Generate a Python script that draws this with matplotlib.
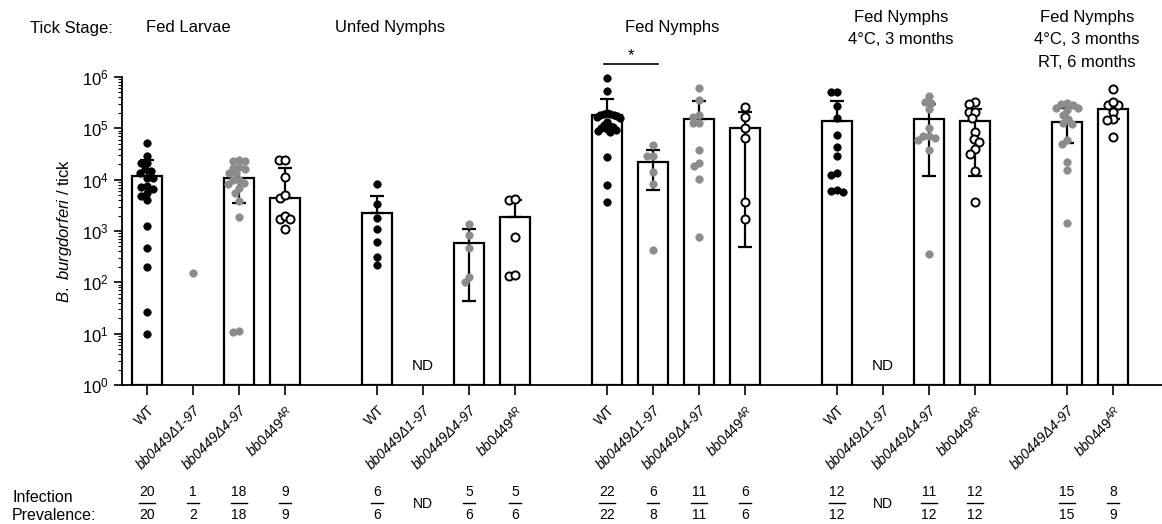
import matplotlib
matplotlib.use("Agg")
import matplotlib.pyplot as plt
import numpy as np
from matplotlib.ticker import LogLocator, NullFormatter

plt.rcParams['font.family'] = ['Liberation Sans', 'DejaVu Sans']
plt.rcParams['mathtext.fontset'] = 'custom'
plt.rcParams['mathtext.rm'] = 'Liberation Sans'
plt.rcParams['mathtext.it'] = 'Liberation Sans:italic'

# tick stages and the genotypes shown in each
stages = ['Fed Larvae', 'Unfed Nymphs', 'Fed Nymphs',
          'Fed Nymphs\n4°C, 3 months', 'Fed Nymphs\n4°C, 3 months\nRT, 6 months']
stage_genotypes = [['WT', 'd1', 'd4', 'AR'], ['WT', 'd1', 'd4', 'AR'],
                   ['WT', 'd1', 'd4', 'AR'], ['WT', 'd1', 'd4', 'AR'], ['d4', 'AR']]
genotype_labels = {'WT': 'WT', 'd1': 'bb0449Δ1-97', 'd4': 'bb0449Δ4-97',
                   'AR': r'$\mathit{bb0449}^{\mathit{AR}}$'}

# spirochete burden per tick (individual ticks), one list per bar
fl_wt = [51000, 29000, 21000, 21000, 16000, 15000, 13500, 11000, 11000, 7400,
         7200, 6500, 4900, 5500, 4100, 1230, 470, 200, 27, 10]
fl_d1 = [155]
fl_d4 = [24000, 23500, 23000, 17000, 16500, 17500, 13500, 13500, 10000, 9800,
         8700, 8100, 6900, 5500, 3800, 1860, 11, 11.5]
fl_ar = [23700, 24000, 11500, 4300, 5000, 1740, 2000, 1740, 1070]
un_wt = [8100, 3400, 1800, 1100, 600, 310, 215]
un_d1 = []
un_d4 = [1380, 830, 460, 102, 126]
un_ar = [4000, 4250, 760, 135, 141]
fn_wt = [955000, 525000, 200000, 190000, 186000, 182000, 178000, 174000, 166000,
         158000, 132000, 115000, 110000, 105000, 100000, 95000, 91000, 87000,
         83000, 27500, 7800, 3700]
fn_d1 = [47000, 29000, 28500, 14000, 8100, 420]
fn_d4 = [620000, 355000, 170000, 129000, 128000, 182000, 38000, 18200, 21000, 10500, 760]
fn_ar = [263000, 170000, 102000, 66000, 3700, 1740]
c4_wt = [513000, 510000, 275000, 162000, 74000, 44000, 29000, 13200, 12300, 6300, 5800, 6000]
c4_d1 = []
c4_d4 = [417000, 331000, 309000, 234000, 102000, 71000, 66000, 59000, 70000, 37000, 355]
c4_ar = [331000, 295000, 209000, 210000, 162000, 83000, 63000, 54000, 39000, 32000, 15000, 3700]
rt_d4 = [288000, 295000, 316000, 245000, 246000, 229000, 182000, 151000, 129000,
         120000, 49000, 59000, 22000, 15500, 1450]
rt_ar = [575000, 282000, 280000, 324000, 209000, 155000, 145000, 68000]

points = [fl_wt, fl_d1, fl_d4, fl_ar, un_wt, un_d1, un_d4, un_ar,
          fn_wt, fn_d1, fn_d4, fn_ar, c4_wt, c4_d1, c4_d4, c4_ar, rt_d4, rt_ar]

# bar heights and error bar ends as drawn (nan = no bar)
nan = np.nan
bar_mean = [11700, nan, 11000, 4400, 2200, nan, 590, 1850,
            180000, 22000, 155000, 102000, 139000, nan, 155000, 137000, 135000, 235000]
err_high = [24000, nan, 18000, 17000, 4900, nan, 1100, 4100,
            380000, 38000, 340000, 204000, 340000, nan, 297000, 235000, 250000, 320000]
err_low = [11700, nan, 3500, 4400, 2200, nan, 44, 1850,
           180000, 6400, 155000, 490, 139000, nan, 12000, 11700, 52000, 150000]

prevalence = [('20', '20'), ('1', '2'), ('18', '18'), ('9', '9'),
              ('6', '6'), 'ND', ('5', '6'), ('5', '6'),
              ('22', '22'), ('6', '8'), ('11', '11'), ('6', '6'),
              ('12', '12'), 'ND', ('11', '12'), ('12', '12'),
              ('15', '15'), ('8', '9')]

sig_pair = (8, 9)
sig_label = '*'

# ---------------------------------------------------------------
W, H = 1162, 524
fig = plt.figure(figsize=(W / 100, H / 100), dpi=100)
ax = fig.add_axes([122 / W, 1 - 385 / H, 1 - 122 / W, (385 - 77) / H])

# slot positions with a one-slot gap between stages
xpos, xlabels, genos = [], [], []
cur = 0
for g in stage_genotypes:
    for gt in g:
        xpos.append(cur)
        xlabels.append(genotype_labels[gt])
        genos.append(gt)
        cur += 1
    cur += 1
xpos = np.array(xpos, dtype=float)

PX_SLOT, PX_DEC, DIAM, MAX_SPREAD = 46.0, 51.2, 6.3, 13.0


def swarm(vals, center):
    logs = np.log10(vals) * PX_DEC
    order = np.argsort(-logs)
    placed = []
    xs = np.zeros(len(vals))
    for i in order:
        y = logs[i]
        cands = [0.0]
        for px, py in placed:
            d = y - py
            if abs(d) < DIAM:
                h = np.sqrt(DIAM ** 2 - d ** 2)
                cands += [px + h, px - h]
        cands.sort(key=lambda c: (round(abs(c), 3), c))
        for c in cands:
            if all((c - px) ** 2 + (y - py) ** 2 >= DIAM ** 2 - 1e-6 for px, py in placed):
                break
        placed.append((c, y))
        xs[i] = c
    # squeeze wide swarms so they stay about the width of the bar
    widest = np.abs(xs).max()
    if widest > MAX_SPREAD:
        xs = xs * MAX_SPREAD / widest
    return center + xs / PX_SLOT


styles = {
    'WT': dict(facecolor='black', edgecolor='black', s=28, linewidths=0.6),
    'd1': dict(facecolor='#8c8c8c', edgecolor='#8c8c8c', s=28, linewidths=0.6),
    'd4': dict(facecolor='#8c8c8c', edgecolor='#8c8c8c', s=28, linewidths=0.6),
    'AR': dict(facecolor='white', edgecolor='black', s=34, linewidths=1.4),
}

bw = 0.67
for i, x in enumerate(xpos):
    if not np.isnan(bar_mean[i]):
        ax.bar(x, bar_mean[i] - 1, bottom=1, width=bw, facecolor='white',
               edgecolor='black', linewidth=1.6, zorder=1)
        ax.errorbar(x, bar_mean[i],
                    yerr=[[bar_mean[i] - err_low[i]], [err_high[i] - bar_mean[i]]],
                    fmt='none', ecolor='black', elinewidth=1.6, capsize=5,
                    capthick=1.6, zorder=2)
    if len(points[i]):
        px = swarm(points[i], x)
        ax.scatter(px, points[i], zorder=3, clip_on=False, **styles[genos[i]])
    if prevalence[i] == 'ND':
        ax.text(x, 2.3, 'ND', ha='center', va='center', fontsize=11)

ax.set_yscale('log')
ax.set_ylim(1, 1e6)
ax.set_xlim((122 - 147) / PX_SLOT, (W - 147) / PX_SLOT)
ax.yaxis.set_major_locator(LogLocator(base=10, numticks=10))
ax.yaxis.set_minor_locator(LogLocator(base=10, subs=np.arange(2, 10), numticks=100))
ax.yaxis.set_minor_formatter(NullFormatter())
ax.tick_params(axis='y', which='major', length=6, width=1.2, labelsize=12)
ax.tick_params(axis='y', which='minor', length=3, width=0.8)
ax.tick_params(axis='x', length=7, width=1.2, pad=6)
for side in ['top', 'right']:
    ax.spines[side].set_visible(False)
for side in ['left', 'bottom']:
    ax.spines[side].set_linewidth(1.3)

ax.set_xticks(xpos)
ax.set_xticklabels(xlabels, rotation=45, ha='right', va='top',
                   rotation_mode='anchor', fontsize=10)
for lbl, gt in zip(ax.get_xticklabels(), genos):
    if gt in ('d1', 'd4'):
        lbl.set_fontstyle('italic')

ax.set_ylabel(r'$\mathit{B.\ burgdorferi}$ / tick', fontsize=12, labelpad=6)

# stage headers
fig.text(30 / W, 1 - 28 / H, 'Tick Stage:', fontsize=12, ha='left', va='center')
header_x = [188, 390, 672, 901, 1087]
header_top = [28, 28, 28, 18, 18]
for s, hx, ht in zip(stages, header_x, header_top):
    fig.text(hx / W, 1 - (ht - 8) / H, s, fontsize=12, ha='center', va='top',
             linespacing=1.62)

# significance bar
xa, xb = xpos[sig_pair[0]] - 0.07, xpos[sig_pair[1]] + 0.1
ysig = 10 ** ((385 - 65) / PX_DEC)
ax.plot([xa, xb], [ysig, ysig], color='black', lw=1.2, clip_on=False)
ax.text((xa + xb) / 2, ysig * 1.05, sig_label, ha='center', va='bottom', fontsize=12)

# infection prevalence row
fig.text(12 / W, 1 - 497 / H, 'Infection', fontsize=11.5, ha='left', va='center')
fig.text(12 / W, 1 - 516 / H, 'Prevalence:', fontsize=11.5, ha='left', va='center')
for x, p in zip(xpos, prevalence):
    fx = (147 + x * PX_SLOT) / W
    if p == 'ND':
        fig.text(fx, 1 - 504 / H, 'ND', fontsize=10, ha='center', va='center')
    else:
        fig.text(fx, 1 - 492 / H, p[0], fontsize=10, ha='center', va='center')
        fig.text(fx, 1 - 515 / H, p[1], fontsize=10, ha='center', va='center')
        half = (8 if max(len(p[0]), len(p[1])) > 1 else 6) / W
        fig.add_artist(plt.Line2D([fx - half, fx + half], [1 - 503 / H] * 2,
                                  color='black', lw=1))

fig.savefig('out.png', dpi=100)
